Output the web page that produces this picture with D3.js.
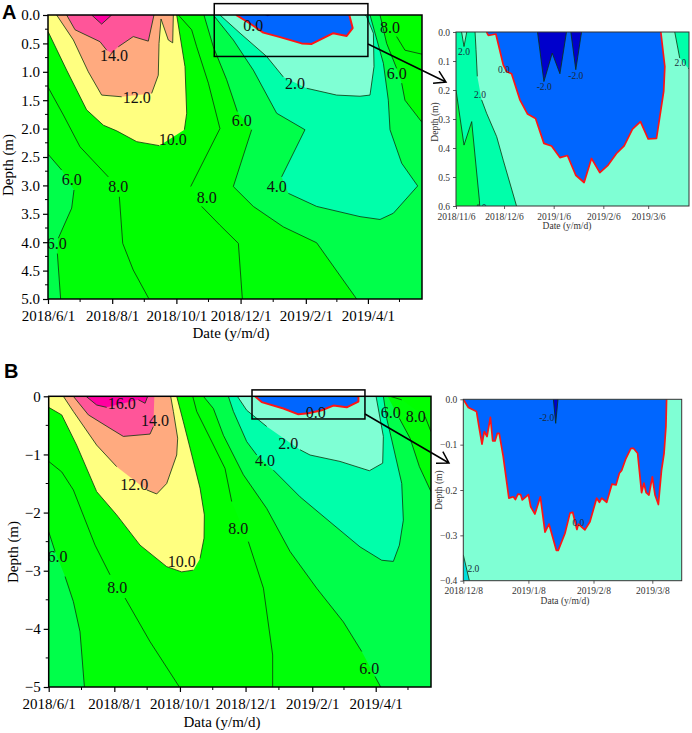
<!DOCTYPE html>
<html>
<head>
<meta charset="utf-8">
<script src="https://cdn.jsdelivr.net/npm/d3@7"></script>
<style>
  body { margin: 0; background: #fff; }
  text { font-family: "Liberation Serif", serif; }
</style>
</head>
<body>
<div id="chart"></div>
<script>
// every contour is [days since the panel's first date, depth], null = gap left for a label
var mainDates = ["2018/6/1", "2018/8/1", "2018/10/1", "2018/12/1", "2019/2/1", "2019/4/1"];
var mainMinor = [30.5, 91.5, 152.5, 214, 274.5, 334];

// panel A, main
var depthTicksA = [0, 0.5, 1, 1.5, 2, 2.5, 3, 3.5, 4, 4.5, 5];
var depthMinorA = [0.25, 0.75, 1.25, 1.75, 2.25, 2.75, 3.25, 3.75, 4.25, 4.75];
var a6Left = [[0, 2.45], [13, 2.73], null, [24.7, 3.08], [22.5, 3.4], [9.8, 3.93], null, [8.9, 4.2], [12, 5]];
var a8Left = [[0, 1.27], [14.6, 1.76], [30.4, 2.32], [57.3, 2.85], null, [67.8, 3.2], [71, 4.02], [81, 4.49], [96, 5]];
var a10 = [[0, 0.29], [17.7, 0.97], [36.7, 1.67], [52.6, 1.94], [65.3, 2.04], [84.3, 2.23], [105.8, 2.3], null, [129.6, 2.02], [131.8, 1.73], [130.2, 0.91], [122.3, 0]];
var a12 = [[8.2, 0], [24.1, 0.44], [38.3, 1], [51, 1.41], [70, 1.44], null, [98.5, 1.38], [104.8, 1.06], [105.5, 0.5], [107.4, 0.07], [114.3, 0.44], [118.5, 0.49], [119.1, 0]];
var a14 = [[17.7, 0], [25.7, 0.26], [49.4, 0.47], [55.8, 0.62], null, [60.5, 0.67], null, [66.8, 0.56], [81, 0.38], [95.3, 0.46], [100.7, 0]];
var a16 = [[41.5, 0], [51, 0.16], [60.5, 0]];
var a8Mid = [[123.9, 0], [136.5, 0.26], [141.3, 0.56], [152.4, 1.2], [163.4, 2], [135.6, 3.02], null, [146, 3.37], [163.4, 3.7], [180.9, 4.02], [184.7, 5]];
var a6Mid = [[148.2, 0], [157.1, 0.56], [169.8, 1.14], [179.9, 1.7], null, [193.5, 2.02], [176.1, 3.02], [195.1, 3.37], [223.6, 3.73], [255.3, 4.01], [293.3, 5]];
var a6Right = [[315.5, 0], [321.8, 0.5], [331.3, 0.94], null, [336.1, 1.2], [339.2, 1.5], [355.4, 1.89]];
var a8Right = [[321.8, 0], null, [331.3, 0.38], [339.2, 0.62], [355.4, 0.69]];
var a4 = [[157.1, 0], [176.1, 0.44], [195.1, 0.97], [217.3, 1.73], [244.2, 2.02], [222, 2.85], null, [228.4, 3.14], [255.3, 3.37], [296.5, 3.55], [315.5, 3.6], [328.2, 3.49], [351.3, 3.01], [336.1, 2.61], [325, 2.02], [323.4, 1.5], [318.7, 0.85], [306, 0]];
var a2 = [[163.4, 0], [182.5, 0.32], [207.8, 0.73], [223.6, 1.09], null, [245.8, 1.29], [274.3, 1.41], [296.5, 1.43], [306, 1.41], [309.8, 0.91], [309.2, 0.32], [302.8, 0.03], [301.2, 0]];
var a0 = [[178.7, 0], [192, 0.15], [204.6, 0.31], [220.5, 0.39], [241, 0.5], [250.6, 0.51], [271.1, 0.32], [283.8, 0.37], [289.5, 0.23], [286.3, 0]];
var aNeg2 = [[206.2, 0], [208.8, 0.02], [211.7, 0]];
var aLabels = [["14.0", 62.7, 0.72], ["12.0", 84.3, 1.45], ["10.0", 118.5, 2.19], ["8.0", 66.8, 3.01], ["6.0", 22.5, 2.9], ["6.0", 8.2, 4.02], ["8.0", 150.8, 3.21], ["6.0", 184, 1.86], ["4.0", 217.3, 3.01], ["2.0", 234.7, 1.21], ["0.0", 195.1, 0.19], ["8.0", 325, 0.21], ["6.0", 331.3, 1.02]];

// panel A, inset
var insetDatesA = ["2018/11/6", "2018/12/6", "2019/1/6", "2019/2/6", "2019/3/6"];
var insetDepthA = [0, 0.1, 0.2, 0.3, 0.4, 0.5, 0.6];
var ia0 = [[19.1, 0], [20.2, 0.012], [24.9, 0.007], [29.5, 0.113], [31.6, 0.136], [34.7, 0.144], [39.9, 0.234], [44.7, 0.283], [49.7, 0.298], [54.9, 0.384], [59.7, 0.393], [64.9, 0.433], [69.6, 0.426], [74.8, 0.494], [80, 0.519], [84.6, 0.436], [89.8, 0.485], [95, 0.459], [100.2, 0.419], [105, 0.393], [110.2, 0.335], [115.2, 0.309], [120, 0.369], [125.2, 0.367], [129.7, 0.205], [130.4, 0.119], [127.9, 0]];
var iaNeg1 = [[50.9, 0], [54.9, 0.171], [60.1, 0.073], [64.9, 0.144], [69, 0]];
var iaNeg2 = [[71.7, 0], [74.8, 0.13], [78.4, 0]];
var ia2Left = [[11.9, 0], [12.5, 0.061], [13.3, 0.153], null, [16, 0.234], [19.1, 0.28], [25.4, 0.361], [29.5, 0.442], [37.8, 0.6]];
var ia2Spike = [[3.5, 0], [5, 0.05], [6.7, 0]];
var ia4 = [[0, 0.2], [5, 0.39], [9.8, 0.309], [14.6, 0.58], [14.8, 0.6]];
var ia2Right = [[136.6, 0], [139.7, 0.09], null, [145, 0.125], [145.5, 0.127]];
var iaLabels = [["2.0", 5, 0.069], ["2.0", 15, 0.215], ["0.0", 29.9, 0.13], ["-2.0", 55.1, 0.19], ["-2.0", 74.8, 0.151], ["2.0", 140.1, 0.107], ["4.0", 15.4, 0.606]];

// panel B, main
var depthTicksB = [0, -1, -2, -3, -4, -5];
var depthMinorB = [-0.5, -1.5, -2.5, -3.5, -4.5];
var b6Left = [[0, -2.33], [5.9, -2.67], null, [15.2, -3.1], [22.9, -3.53], [29.1, -4.05], [33.2, -5]];
var b8Left = [[0, -1.12], [12.1, -1.3], [22.9, -1.61], [43.1, -2.56], [57, -3.07], null, [71, -3.47], [94.2, -4.22], [121.5, -5]];
var b10 = [[0, -0.19], [12.1, -0.32], [26, -0.84], [44.6, -1.64], [63.2, -2.04], [84.9, -2.56], [109.7, -2.93], [123.6, -3.02], [134.5, -2.99], null, [140.7, -2.79], [144.4, -2.44], [144.7, -2.04], [140.7, -1.58], [131.4, -0.89], [125.2, -0.44], [119, 0]];
var b12 = [[13.6, 0], [22.9, -0.26], [44.6, -0.84], [63.2, -1.21], null, [91.1, -1.61], [100.4, -1.68], [109.7, -1.5], [119, -1.01], [119.9, -0.72], [115.9, -0.26], [113.4, 0]];
var b14 = [[22.9, 0], [36.9, -0.32], [57, -0.55], [69.4, -0.69], [94.2, -0.65], [97.3, -0.52], null, [98.2, 0]];
var b16 = [[34.7, 0], [44.6, -0.15], [53.9, -0.19], null, [83.4, -0.06], [89.6, -0.12], [92, 0]];
var b8Mid = [[133.9, 0], [137.6, -0.26], [150, -0.72], [163.9, -1.24], [170.1, -1.81], null, [185.6, -2.5], [199.6, -3.3], [208.2, -4.45], [208.2, -5]];
var b6Mid = [[143.8, 0], [153.1, -0.21], [162.4, -0.67], [181, -1.35], [202.7, -1.93], [224.4, -2.67], [249.1, -3.3], [273.9, -3.88], [291, -4.39], null, [303.4, -4.82], [308.6, -5]];
var b6Right = [[315, 0], null, [326, -0.38], [335.9, -0.72], [344.6, -1.21], [355.4, -1.64]];
var b8Right = [[317.3, 0], [328.2, -0.06], null, [349.9, -0.35], [355.4, -0.61]];
var b4 = [[167, 0], [171.7, -0.26], [184.1, -0.78], [193.4, -1.01], null, [208.9, -1.27], [233.7, -1.73], [261.5, -2.16], [289.4, -2.59], [309.6, -2.82], [320.4, -2.84], [326, -2.56], [329.7, -2.13], [328.2, -1.5], [318.9, -0.75], [314.2, -0.38], [311.1, 0]];
var b2 = [[175.4, 0], [184.1, -0.24], [202.7, -0.52], null, [233.7, -0.92], [243, -1.01], [270.8, -1.12], [298.1, -1.28], [310.5, -1.15], [311.1, -0.69], [304.3, 0]];
var b0 = [[191.8, 0], [198, -0.1], [218.2, -0.21], [232.1, -0.31], [241.4, -0.29], [253.8, -0.24], [264.6, -0.16], [277, -0.19], [287.9, -0.09], [287.9, 0]];
var bLabels = [["16.0", 67.9, -0.12], ["14.0", 98.9, -0.41], ["12.0", 79.6, -1.51], ["10.0", 123.6, -2.84], ["6.0", 8.1, -2.76], ["8.0", 63.8, -3.29], ["8.0", 176.3, -2.28], ["6.0", 298.1, -4.68], ["4.0", 201.1, -1.11], ["2.0", 222.8, -0.81], ["0.0", 248.2, -0.28], ["6.0", 317.9, -0.28], ["8.0", 341.2, -0.35]];

// panel B, inset
var insetDatesB = ["2018/12/8", "2019/1/8", "2019/2/8", "2019/3/8"];
var insetDepthB = [0, -0.1, -0.2, -0.3, -0.4];
var ib0 = [[0, 0], [2.4, -0.018], [6.3, -0.027], [7.6, -0.064], [8.9, -0.099], [10, -0.071], [11.3, -0.082], [12.9, -0.04], [14, -0.092], [15.1, -0.092], [16.2, -0.075], [17.1, -0.075], [19, -0.126], [21.7, -0.218], [23.8, -0.215], [24.8, -0.221], [26, -0.209], [27.3, -0.21], [28.1, -0.222], [31, -0.21], [32.1, -0.237], [34.1, -0.253], [36.7, -0.215], [38.9, -0.293], [40.8, -0.275], [44.3, -0.333], [45.2, -0.333], [48.4, -0.296], [50.8, -0.251], [52.1, -0.249], [54.1, -0.287], [54.8, -0.275], [57.9, -0.288], [60.3, -0.27], [63.5, -0.218], [64.8, -0.227], [65.9, -0.218], [68.3, -0.227], [70.8, -0.187], [72.7, -0.189], [74.3, -0.163], [75.4, -0.157], [77.3, -0.132], [79.8, -0.108], [81, -0.108], [83, -0.119], [84.9, -0.206], [86, -0.185], [87.1, -0.206], [88.4, -0.211], [90, -0.171], [91.3, -0.211], [92.9, -0.232], [94.4, -0.156], [95.6, -0.119], [96.5, -0.06], [96.8, 0]];
var ibNeg = [[42.9, 0], [44, -0.053], [45.1, 0]];
var ib2 = [[0, -0.343], [2.9, -0.4]];
var ibLabels = [["-2.0", 39.7, -0.04], ["0.0", 54.8, -0.272], ["2.0", 4.8, -0.374]];

// band colours
var cNeg = "#0000cc", cBlue = "#0066ff", c02 = "#7fffd4", c24 = "#00ffaa", c46 = "#00ff4a";
var c68 = "#00ff08", c810 = "#00ff00", c1012 = "#ffff80", c1214 = "#ffaa7f", c1416 = "#ff5599", c16 = "#ff00a0";

var width = 692, height = 733;
var svg = d3.select("#chart").append("svg").attr("width", width).attr("height", height).style("display", "block");

var parseDate = d3.utcParse("%Y/%m/%d");
var line = d3.line().defined(function (d) { return d; });
var clipCount = 0;

function drawPlot(p) {
  var firstDate = parseDate(p.dates[0]);
  var x = d3.scaleLinear().domain([0, p.maxDay]).range([p.left, p.right]);
  var y = d3.scaleLinear().domain(p.depth).range([p.top, p.bottom]);
  var scaled = function (pts) {
    return pts.map(function (d) { return d ? [x(d[0]), y(d[1])] : null; });
  };

  var clipId = "clip" + clipCount++;
  svg.append("clipPath").attr("id", clipId).append("rect")
    .attr("x", p.left).attr("y", p.top).attr("width", p.right - p.left).attr("height", p.bottom - p.top);
  var g = svg.append("g").attr("clip-path", "url(#" + clipId + ")");

  g.append("rect").attr("x", p.left).attr("y", p.top)
    .attr("width", p.right - p.left).attr("height", p.bottom - p.top).attr("fill", p.base);

  // fills, painted low band first
  p.bands.forEach(function (b) {
    g.append("path").attr("fill", b[0]).attr("d", line(scaled(b[1].filter(Boolean))) + "Z");
  });

  p.contours.forEach(function (c) {
    g.append("path").attr("fill", "none").attr("stroke", "#0c330c").attr("stroke-width", p.lineWidth).attr("d", line(scaled(c)));
  });
  p.redLines.forEach(function (c) {
    g.append("path").attr("fill", "none").attr("stroke", "#ff1414").attr("stroke-width", p.redWidth)
      .attr("stroke-linejoin", "round").attr("d", line(scaled(c)));
  });

  g.selectAll("text.contour").data(p.labels).enter().append("text")
    .attr("class", "contour")
    .attr("x", function (d) { return x(d[1]); })
    .attr("y", function (d) { return y(d[2]); })
    .attr("dy", "0.35em")
    .attr("text-anchor", "middle")
    .attr("font-size", p.labelSize)
    .attr("fill", p.labelColor)
    .text(function (d) { return d[0]; });

  // axes
  var tickDays = p.dates.map(function (d) { return d3.utcDay.count(firstDate, parseDate(d)); });
  var xAxis = svg.append("g").attr("transform", "translate(0," + p.bottom + ")")
    .call(d3.axisBottom(x).tickValues(tickDays).tickSizeOuter(0).tickSize(p.tick).tickPadding(p.xPad)
      .tickFormat(function (d, i) { return p.dates[i]; }));
  var yAxis = svg.append("g").attr("transform", "translate(" + p.left + ",0)")
    .call(d3.axisLeft(y).tickValues(p.yTicks).tickSizeOuter(0).tickSize(p.tick).tickPadding(p.yPad)
      .tickFormat(p.yFormat));
  [xAxis, yAxis].forEach(function (a) {
    a.selectAll("text").attr("font-family", "Liberation Serif").attr("font-size", p.tickSize).attr("fill", p.inkColor);
    a.selectAll("line").attr("stroke", p.inkColor).attr("stroke-width", p.frameWidth * 0.8);
    a.select(".domain").remove();
  });

  if (p.xMinor) {
    svg.append("g").selectAll("line").data(p.xMinor).enter().append("line")
      .attr("x1", x).attr("x2", x).attr("y1", p.bottom).attr("y2", p.bottom + p.tick - 2)
      .attr("stroke", p.inkColor).attr("stroke-width", 1);
    svg.append("g").selectAll("line").data(p.yMinor).enter().append("line")
      .attr("y1", y).attr("y2", y).attr("x1", p.left).attr("x2", p.left - p.tick + 2)
      .attr("stroke", p.inkColor).attr("stroke-width", 1);
  }

  svg.append("rect").attr("x", p.left).attr("y", p.top)
    .attr("width", p.right - p.left).attr("height", p.bottom - p.top)
    .attr("fill", "none").attr("stroke", p.inkColor).attr("stroke-width", p.frameWidth);

  svg.append("text").attr("x", p.xTitle[1]).attr("y", p.xTitle[2])
    .attr("text-anchor", "middle").attr("font-size", p.titleSize).attr("fill", p.inkColor).text(p.xTitle[0]);
  svg.append("text").attr("transform", "translate(" + p.yTitle[0] + "," + p.yTitle[1] + ")rotate(-90)")
    .attr("text-anchor", "middle").attr("font-size", p.titleSize).attr("fill", p.inkColor).text("Depth (m)");

  return { x: x, y: y };
}

function zoomBox(scales, b) {
  var x0 = scales.x(b[0]), x1 = scales.x(b[1]), y0 = scales.y(b[2]), y1 = scales.y(b[3]);
  svg.append("rect").attr("x", x0).attr("y", y0).attr("width", x1 - x0).attr("height", y1 - y0)
    .attr("fill", "none").attr("stroke", "#000").attr("stroke-width", 1.5);
}

function arrow(from, to) {
  var ang = Math.atan2(to[1] - from[1], to[0] - from[0]);
  var head = 13, spread = 0.55;
  var a = [to[0] - head * Math.cos(ang - spread), to[1] - head * Math.sin(ang - spread)];
  var b = [to[0] - head * Math.cos(ang + spread), to[1] - head * Math.sin(ang + spread)];
  svg.append("path").attr("fill", "none").attr("stroke", "#000").attr("stroke-width", 1.5)
    .attr("d", "M" + from + "L" + to + "M" + a + "L" + to + "L" + b);
}

var fmt1 = d3.format(".1f");
var mainStyle = {
  dates: mainDates, maxDay: 355.4, base: c810, tick: 5, xPad: 6, yPad: 3,
  xMinor: mainMinor, tickSize: 15, titleSize: 15, labelSize: 16, labelColor: "#111", inkColor: "#000",
  lineWidth: 0.8, redWidth: 2, frameWidth: 1.5
};
var insetStyle = {
  base: c02, tick: 3, xPad: 4, yPad: 3, tickSize: 9.5, titleSize: 9.5, labelSize: 9.5, labelColor: "#1a2a3a",
  inkColor: "#333", lineWidth: 0.8, redWidth: 1.7, frameWidth: 1
};

var mainA = drawPlot(Object.assign({}, mainStyle, {
  left: 48, right: 422, top: 15, bottom: 299, depth: [0, 5],
  yTicks: depthTicksA, yMinor: depthMinorA, yFormat: fmt1,
  bands: [
    [c68, a8Left.concat([[0, 5]])],
    [c68, a8Mid.concat([[355.4, 5]], a8Right.slice().reverse())],
    [c46, a6Left.concat([[0, 5]])],
    [c46, a6Mid.concat([[355.4, 5]], a6Right.slice().reverse())],
    [c24, a4], [c02, a2], [cBlue, a0], [cNeg, aNeg2],
    [c1012, a10.concat([[0, 0]])], [c1214, a12], [c1416, a14], [c16, a16]
  ],
  contours: [a6Left, a8Left, a10, a12, a14, a16, a8Mid, a6Mid, a6Right, a8Right, a4, a2],
  redLines: [a0],
  labels: aLabels,
  xTitle: ["Date (y/m/d)", 231, 338], yTitle: [13, 165]
}));
zoomBox(mainA, [158, 304, -0.2, 0.73]);
arrow([368, 44], [446, 82]);

drawPlot(Object.assign({}, insetStyle, {
  dates: insetDatesA, maxDay: 145.5, left: 456, right: 689, top: 32, bottom: 206, depth: [0, 0.6],
  yTicks: insetDepthA, yFormat: fmt1,
  bands: [
    [c24, ia2Left.concat([[0, 0.6], [0, 0]])],
    [c02, ia2Spike],
    [c46, ia4.concat([[0, 0.6]])],
    [c24, ia2Right.concat([[145.5, 0]])],
    [cBlue, ia0], [cNeg, iaNeg1], [cNeg, iaNeg2]
  ],
  contours: [ia2Left, ia2Spike, ia4, ia2Right, iaNeg1, iaNeg2],
  redLines: [ia0],
  labels: iaLabels,
  xTitle: ["Date (y/m/d)", 567, 229], yTitle: [438, 122]
}));

var mainB = drawPlot(Object.assign({}, mainStyle, {
  left: 48.7, right: 431, top: 396.3, bottom: 687, depth: [0, -5],
  yTicks: depthTicksB, yMinor: depthMinorB, yFormat: d3.format("d"),
  bands: [
    [c68, b8Left.concat([[0, -5]])],
    [c68, b8Mid.concat([[355.4, -5]], b8Right.slice().reverse())],
    [c46, b6Left.concat([[0, -5]])],
    [c46, b6Mid.concat([[355.4, -5]], b6Right.slice().reverse())],
    [c24, b4], [c02, b2], [cBlue, b0],
    [c1012, b10.concat([[0, 0]])], [c1214, b12], [c1416, b14], [c16, b16]
  ],
  contours: [b6Left, b8Left, b10, b12, b14, b16, b8Mid, b6Mid, b6Right, b8Right, b4, b2],
  redLines: [b0],
  labels: bLabels,
  xTitle: ["Data (y/m/d)", 222, 727], yTitle: [18, 552]
}));
zoomBox(mainB, [189, 294, 0.11, -0.39]);
arrow([365, 414], [449, 463]);

drawPlot(Object.assign({}, insetStyle, {
  dates: insetDatesB, maxDay: 104, left: 463.3, right: 681.7, top: 399.3, bottom: 580.7, depth: [0, -0.4],
  yTicks: insetDepthB, yFormat: fmt1,
  bands: [[cBlue, ib0], [cNeg, ibNeg], ["#00dddd", ib2.concat([[0, -0.4]])]],
  contours: [ibNeg, ib2],
  redLines: [ib0],
  labels: ibLabels,
  xTitle: ["Data (y/m/d)", 565, 604], yTitle: [442, 490]
}));

// panel letters
[["A", 2, 19], ["B", 4, 378]].forEach(function (d) {
  svg.append("text").attr("x", d[1]).attr("y", d[2])
    .style("font-family", "Liberation Sans").attr("font-weight", "bold").attr("font-size", 20).text(d[0]);
});
</script>
</body>
</html>
